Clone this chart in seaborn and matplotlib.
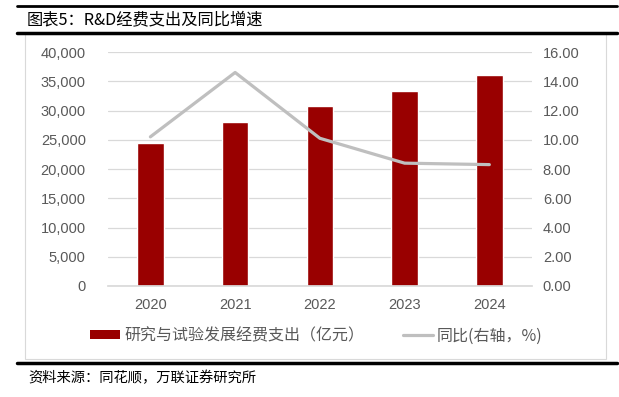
import numpy as np
import pandas as pd
import matplotlib
matplotlib.use('Agg')
import matplotlib.pyplot as plt
import seaborn as sns
from matplotlib.patches import Rectangle, Patch
from matplotlib.lines import Line2D
from matplotlib.ticker import FuncFormatter

YEARS = ['2020', '2021', '2022', '2023', '2024']
RD_SPEND = [24393, 27956, 30783, 33357, 36130]   # 亿元
YOY = [10.2, 14.6, 10.1, 8.4, 8.3]                # %

BAR_COLOR = '#990000'
LINE_COLOR = '#bfbfbf'
TICK_COLOR = '#595959'
TICK_FONT = ['Liberation Sans', 'DejaVu Sans']

sns.set_theme(style='white')
plt.rcParams['font.family'] = ['Noto Sans CJK SC', 'DejaVu Sans']

df = pd.DataFrame({'year': YEARS, 'spend': RD_SPEND, 'yoy': YOY})

fig = plt.figure(figsize=(6.19, 3.97), dpi=100)
ax = fig.add_axes([0.1745, 0.2796, 0.6845, 0.5894])

sns.barplot(data=df, x='year', y='spend', color=BAR_COLOR, width=0.315,
            saturation=1, ax=ax)
ax.set_ylim(0, 40000)
ax.set_yticks(np.arange(0, 40001, 5000))
ax.yaxis.set_major_formatter(FuncFormatter(lambda v, p: f'{int(v):,}'))
ax.set_xlim(-0.5, 4.5)
ax.set_xlabel('')
ax.set_ylabel('')
ax.grid(axis='y', color='#d9d9d9', linewidth=0.9)
ax.set_axisbelow(True)
for s in ax.spines.values():
    s.set_visible(False)
ax.spines['bottom'].set_visible(True)
ax.spines['bottom'].set_color('#d9d9d9')
ax.tick_params(axis='x', length=0, colors=TICK_COLOR, pad=9)
ax.tick_params(axis='y', length=0, colors=TICK_COLOR, pad=16)

ax2 = ax.twinx()
sns.lineplot(data=df, x='year', y='yoy', color=LINE_COLOR, linewidth=2.3,
             ax=ax2, sort=False)
ax2.set_ylim(0, 16)
ax2.set_yticks(np.arange(0, 16.01, 2))
ax2.yaxis.set_major_formatter(FuncFormatter(lambda v, p: f'{v:.2f}'))
ax2.set_ylabel('')
ax2.set_xlabel('')
for s in ax2.spines.values():
    s.set_visible(False)
ax2.tick_params(axis='y', length=0, colors=TICK_COLOR, pad=8)
ax.set_xlim(-0.5, 4.5)

for lab in ax.get_xticklabels() + ax.get_yticklabels() + ax2.get_yticklabels():
    lab.set_fontfamily(TICK_FONT)
    lab.set_fontsize(10.5)

handles = [Patch(facecolor=BAR_COLOR, edgecolor='none'),
           Line2D([0], [0], color=LINE_COLOR, linewidth=2.3)]
labels = ['研究与试验发展经费支出（亿元）', '同比(右轴，%)']
fig.legend(handles, labels, loc='center', bbox_to_anchor=(0.511, 0.1537), ncol=2,
           frameon=False, fontsize=11.5, handlelength=1.9, handleheight=0.5,
           handletextpad=0.25, columnspacing=2.4, labelcolor=TICK_COLOR)

# chart frame and report-style rules
fig.add_artist(Rectangle((25 / 619, 1 - 359 / 397), 581 / 619, 325 / 397,
                         transform=fig.transFigure, fill=False,
                         edgecolor='#d9d9d9', linewidth=0.8))
for y, lw in [(6, 2.0), (32.5, 2.5), (363, 2.5)]:
    fig.add_artist(Line2D([17 / 619, 617 / 619], [1 - y / 397, 1 - y / 397],
                          transform=fig.transFigure, color='black', linewidth=lw))

fig.text(27 / 619, 1 - 19.5 / 397, '图表5：R&D经费支出及同比增速', fontsize=11.7,
         color='black', va='center', ha='left')
fig.text(28 / 619, 1 - 378 / 397, '资料来源：同花顺，万联证券研究所', fontsize=10.3,
         color='black', va='center', ha='left', style='italic')

fig.savefig('out.png', dpi=100)
